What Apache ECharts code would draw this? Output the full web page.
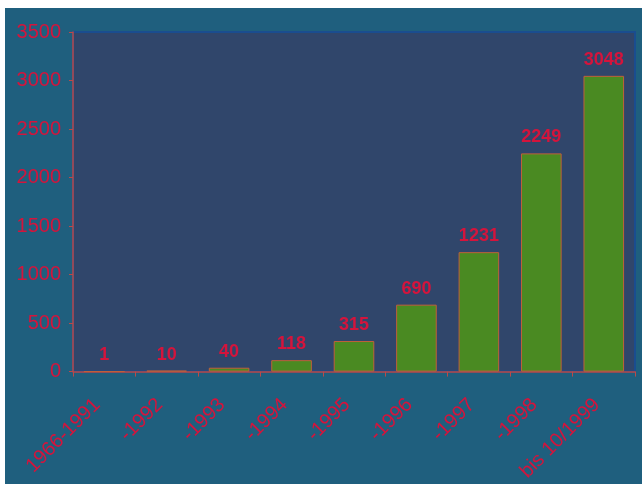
<!DOCTYPE html>
<html><head><meta charset="utf-8">
<script src="https://cdn.jsdelivr.net/npm/echarts@6/dist/echarts.min.js"></script>
<style>
html,body{margin:0;padding:0;background:#ffffff;width:642px;height:486px;overflow:hidden;}
#c{position:absolute;left:5px;top:8px;width:637px;height:476px;}
</style></head>
<body><div id="c"></div>
<script>
const categories = ['1966-1991','-1992','-1993','-1994','-1995','-1996','-1997','-1998','bis 10/1999'];
const values = [1,10,40,118,315,690,1231,2249,3048];
const yTicks = {min:0, max:3500, interval:500};

const red = '#d4143c';
const font = 'Liberation Sans, Arial, sans-serif';
const chart = echarts.init(document.getElementById('c'), null, {renderer:'canvas'});
chart.setOption({
  backgroundColor:'#1f5f7e',
  animation:false,
  grid:{left:68, top:24, right:7, bottom:108, show:true, backgroundColor:'#30466b', borderColor:'#1a4d8f', borderWidth:2},
  xAxis:{
    type:'category', data:categories,
    axisLine:{lineStyle:{color:'#b84a4a', width:1.5}},
    axisTick:{show:true, lineStyle:{color:'#b84a4a'}, length:5},
    axisLabel:{rotate:45, color:red, fontFamily:font, fontSize:20, margin:23, padding:[0,10,0,0], interval:0},
    splitLine:{show:false}
  },
  yAxis:{
    type:'value', min:yTicks.min, max:yTicks.max, interval:yTicks.interval,
    axisLine:{show:true, lineStyle:{color:'#b84a4a', width:1.5}},
    axisTick:{show:true, lineStyle:{color:'#b84a4a'}, length:4},
    axisLabel:{color:red, fontFamily:font, fontSize:20, margin:12, formatter:function(v){return String(v);}},
    splitLine:{show:false}
  },
  series:[{
    type:'bar', data:values, barWidth:'65%',
    itemStyle:{color:'#4a8a22', borderColor:'#c0603a', borderWidth:1},
    label:{show:true, position:'top', color:red, fontFamily:font, fontSize:18, fontWeight:'bold', distance:7}
  }]
});
</script></body></html>
